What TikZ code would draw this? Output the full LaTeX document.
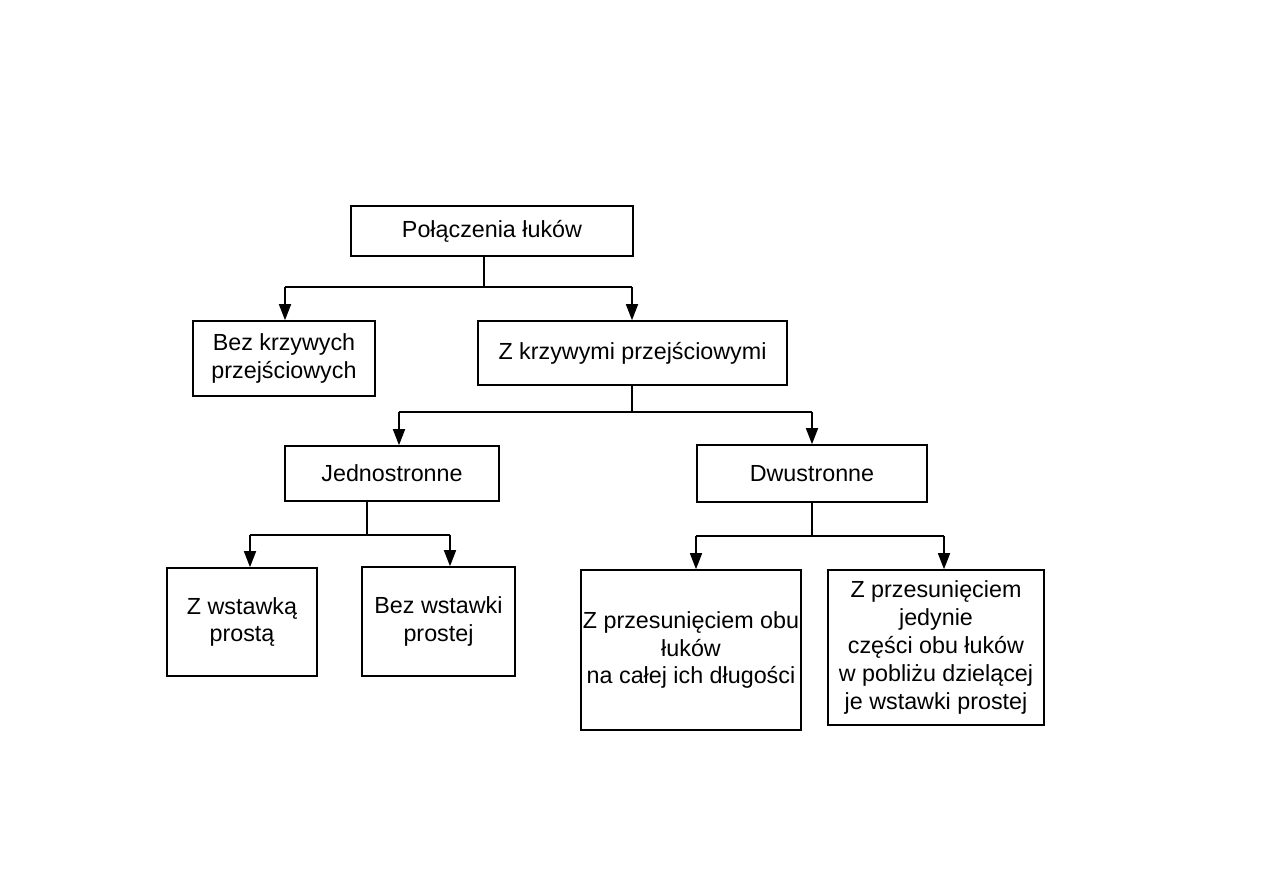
\documentclass[tikz,border=0pt]{standalone}
\usepackage{fontspec}
\setmainfont{Liberation Sans}
\usetikzlibrary{arrows.meta,calc}
\begin{document}
\begin{tikzpicture}[x=1pt,y=-1pt,
  box/.style={draw,line width=1.6pt,inner sep=0pt,align=center,
    font=\fontsize{23.3}{27.8}\selectfont},
  conn/.style={line width=1.6pt},
  arr/.style={conn,-{Triangle[length=16pt,width=12pt]}}]
\useasboundingbox (0,0) rectangle (1263,893);
% boxes
\node[box,minimum width=282pt,minimum height=50pt] (top) at (492,231) {Połączenia łuków};
\node[box,minimum width=182pt,minimum height=75pt] (bez) at (284,358.5) {Bez krzywych\\przejściowych};
\node[box,minimum width=309pt,minimum height=64pt] (zk) at (632.5,353) {Z krzywymi przejściowymi};
\node[box,minimum width=214pt,minimum height=55pt] (jed) at (392,473.5) {Jednostronne};
\node[box,minimum width=230pt,minimum height=57pt] (dwu) at (812,473.5) {Dwustronne};
\node[box,minimum width=150pt,minimum height=108pt] (zw) at (242,622) {Z wstawką\\prostą};
\node[box,minimum width=153pt,minimum height=109pt] (bw) at (438.5,621.5) {Bez wstawki\\prostej};
\node[box,minimum width=220pt,minimum height=160pt] (zpo) at (691,650) {Z przesunięciem obu\\łuków\\na całej ich długości};
\node[box,minimum width=216pt,minimum height=155pt] (zpj) at (936,647.5) {Z przesunięciem\\jedynie\\części obu łuków\\w pobliżu dzielącej\\je wstawki prostej};
% junction coordinates
\coordinate (j1) at (484,287);
\coordinate (j1l) at (285,287);
\coordinate (j1r) at (632,287);
\coordinate (j2) at (632,412);
\coordinate (j2l) at (399,412);
\coordinate (j2r) at (812,412);
\coordinate (j3) at (367,535);
\coordinate (j3l) at (250,535);
\coordinate (j3r) at (450,535);
\coordinate (j4) at (812,536);
\coordinate (j4l) at (696,536);
\coordinate (j4r) at (944,536);
% connectors
\draw[conn] (j1 |- top.south) -- (j1);
\draw[conn] (j1l) -- (j1r);
\draw[arr] (j1l) -- (j1l |- bez.north);
\draw[arr] (j1r) -- (j1r |- zk.north);
\draw[conn] (j2 |- zk.south) -- (j2);
\draw[conn] (j2l) -- (j2r);
\draw[arr] (j2l) -- (j2l |- jed.north);
\draw[arr] (j2r) -- (j2r |- dwu.north);
\draw[conn] (j3 |- jed.south) -- (j3);
\draw[conn] (j3l) -- (j3r);
\draw[arr] (j3l) -- (j3l |- zw.north);
\draw[arr] (j3r) -- (j3r |- bw.north);
\draw[conn] (j4 |- dwu.south) -- (j4);
\draw[conn] (j4l) -- (j4r);
\draw[arr] (j4l) -- (j4l |- zpo.north);
\draw[arr] (j4r) -- (j4r |- zpj.north);
\end{tikzpicture}
\end{document}
